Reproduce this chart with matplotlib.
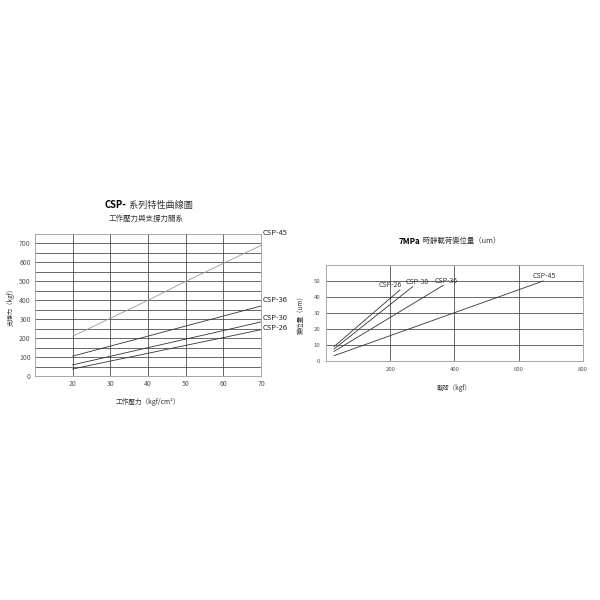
import matplotlib
matplotlib.use("Agg")
import matplotlib.pyplot as plt

plt.rcParams['font.family'] = ['Noto Sans CJK TC', 'DejaVu Sans']

# 左圖: 工作壓力與支撐力
pressure = [20, 30, 40, 50, 60, 70]
support = {
    "CSP-45": [210, 305, 400, 500, 595, 690],
    "CSP-36": [105, 158, 211, 264, 317, 370],
    "CSP-30": [59, 104, 150, 195, 240, 286],
    "CSP-26": [37, 79, 120, 162, 203, 245],
}
support_colors = {"CSP-45": "#9a9a9a", "CSP-36": "#333333", "CSP-30": "#333333", "CSP-26": "#333333"}
support_label_dy = {"CSP-45": 9, "CSP-36": 4, "CSP-30": 3, "CSP-26": 1}
left_yticks = [0, 100, 200, 300, 400, 500, 600, 700]

# 右圖: 載荷與變位量
disp = {
    "CSP-26": ([25, 230], [9, 44.4]),
    "CSP-30": ([25, 270], [7.5, 46.5]),
    "CSP-36": ([25, 365], [6, 47.3]),
    "CSP-45": ([25, 676], [3.3, 50]),
}
disp_label_dx = {"CSP-26": -7, "CSP-30": 3, "CSP-36": 2, "CSP-45": 1}
right_xticks = [200, 400, 600, 800]
right_yticks = [0, 10, 20, 30, 40, 50]

fig = plt.figure(figsize=(6, 6), dpi=100)
fig.patch.set_facecolor("white")

grid_c = "#404040"
tick_c = "#555555"

# ---- 左圖 ----
ax1 = fig.add_axes([0.0583, 0.3733, 0.377, 0.2367])
for name, vals in support.items():
    ax1.plot(pressure, vals, color=support_colors[name], lw=0.6)
    ax1.annotate(name, xy=(pressure[-1], vals[-1]), xytext=(1, support_label_dy[name]),
                 textcoords="offset points", fontsize=5.4, color="#222222",
                 ha="left", va="center", annotation_clip=False)
ax1.set_xlim(10, 70)
ax1.set_ylim(0, 750)
ax1.set_xticks(pressure)
ax1.set_yticks(left_yticks)
ax1.set_yticks(range(50, 750, 100), minor=True)
ax1.grid(True, which="both", color=grid_c, lw=0.55)
ax1.tick_params(which="both", length=0, labelsize=5, labelcolor=tick_c, pad=3)
for s in ax1.spines.values():
    s.set_color("#999999")
    s.set_linewidth(0.6)
ax1.set_xlabel("工作壓力（kgf/cm²）", fontsize=4.8, color="#333333", labelpad=7)
ax1.set_ylabel("支撐力（kgf）", fontsize=4.6, color="#333333", labelpad=3)

fig.text(0.21, 0.658, "CSP-", fontsize=6.8, fontweight="bold", ha="right", va="center")
fig.text(0.211, 0.658, " 系列特性曲線圖", fontsize=6.6, color="#333333", ha="left", va="center")
fig.text(0.243, 0.635, "工作壓力與支撐力關系", fontsize=5.4, color="#333333", ha="center", va="center")

# ---- 右圖 ----
ax2 = fig.add_axes([0.5433, 0.3983, 0.4283, 0.16])
for name, (xs, ys) in disp.items():
    ax2.plot(xs, ys, color="#333333", lw=0.6)
    ax2.annotate(name, xy=(xs[-1], ys[-1]), xytext=(disp_label_dx[name], 0.5),
                 textcoords="offset points", fontsize=5, color="#333333",
                 ha="center", va="bottom")
ax2.set_xlim(0, 800)
ax2.set_ylim(0, 60)
ax2.set_xticks(right_xticks)
ax2.set_yticks(right_yticks)
ax2.grid(True, color=grid_c, lw=0.55)
ax2.tick_params(length=0, labelsize=4.3, labelcolor=tick_c, pad=4)
for s in ax2.spines.values():
    s.set_color("#999999")
    s.set_linewidth(0.6)
ax2.set_xlabel("載荷（kgf）", fontsize=4.6, color="#333333", labelpad=9)
ax2.set_ylabel("變位量（um）", fontsize=4.6, color="#333333", labelpad=6)

fig.text(0.7, 0.598, "7MPa", fontsize=5.8, fontweight="bold", ha="right", va="center")
fig.text(0.701, 0.598, " 時靜載荷變位量（um）", fontsize=5.3, color="#333333", ha="left", va="center")

fig.savefig("out.png", dpi=100, facecolor="white")
